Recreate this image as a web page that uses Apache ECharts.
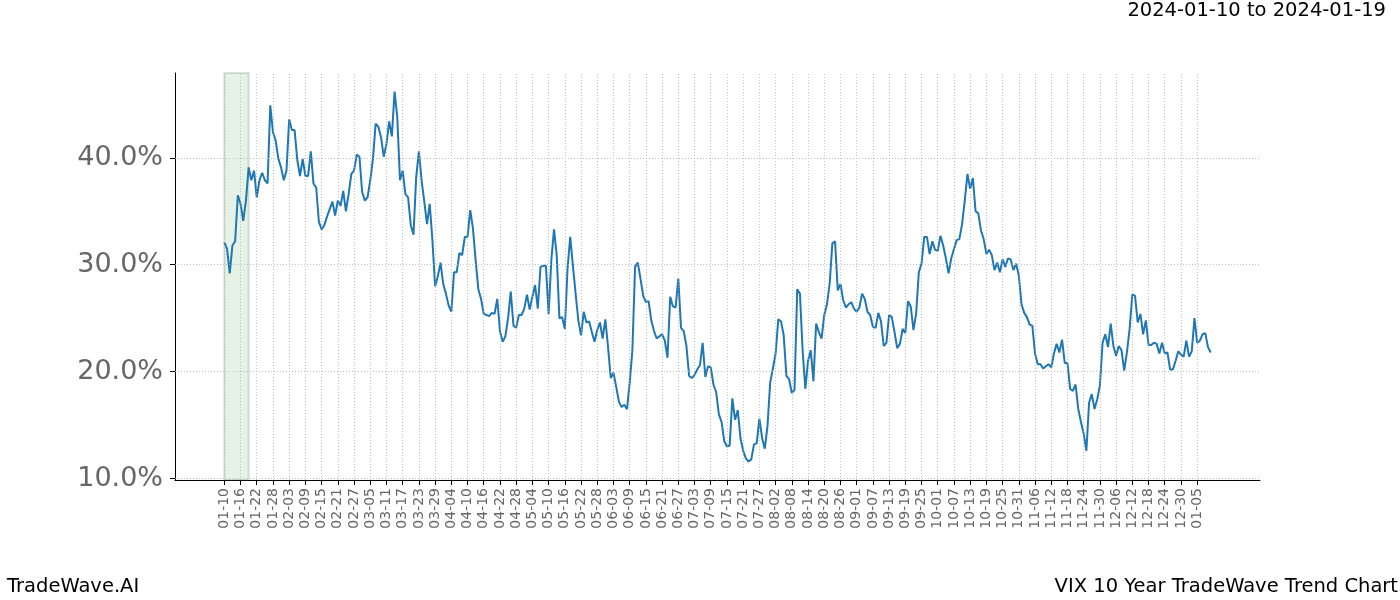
<!DOCTYPE html>
<html><head><meta charset="utf-8">
<script src="https://cdn.jsdelivr.net/npm/echarts@6/dist/echarts.min.js"></script>
<style>html,body{margin:0;padding:0;background:#fff}#c{width:1400px;height:600px}</style>
</head><body><div id="c"></div>
<script>
// Day index 0 = 2024-01-10 (one value per calendar day)
const startDate = '2024-01-10';
const highlightStartDay = 0;   // 2024-01-10
const highlightEndDay = 9;     // 2024-01-19
const titleText = '2024-01-10 to 2024-01-19';
const footerLeft = 'TradeWave.AI';
const footerRight = 'VIX 10 Year TradeWave Trend Chart';

const tickLabels = ['01-10','01-16','01-22','01-28','02-03','02-09','02-15','02-21','02-27','03-05',
  '03-11','03-17','03-23','03-29','04-04','04-10','04-16','04-22','04-28','05-04','05-10','05-16',
  '05-22','05-28','06-03','06-09','06-15','06-21','06-27','07-03','07-09','07-15','07-21','07-27',
  '08-02','08-08','08-14','08-20','08-26','09-01','09-07','09-13','09-19','09-25','10-01','10-07',
  '10-13','10-19','10-25','10-31','11-06','11-12','11-18','11-24','11-30','12-06','12-12','12-18',
  '12-24','12-30','01-05'];
const tickDays = [0,6,12,18,24,30,36,42,48,54,60,66,72,78,84,90,96,102,108,114,120,126,132,138,144,
  150,156,162,168,174,180,186,192,198,204,210,216,222,228,234,240,246,252,258,264,270,276,282,288,
  294,300,306,312,318,324,330,336,342,348,354,360];
const yTicks = [10, 20, 30, 40];

const vixValues = [
  32.1,31.5,29.2,31.8,32.2,36.5,35.7,34.1,36.0,39.1,
  37.9,38.8,36.3,37.9,38.6,37.9,37.6,44.9,42.4,41.6,
  39.9,39.1,37.9,38.8,43.6,42.6,42.6,39.8,38.3,39.9,
  38.3,38.3,40.6,37.6,37.2,34.0,33.3,33.7,34.5,35.2,
  35.9,34.6,36.0,35.5,36.9,35.0,36.6,38.5,38.8,40.3,
  40.1,36.8,36.0,36.3,37.9,39.9,43.2,42.9,41.9,40.1,
  41.3,43.4,42.0,46.2,43.8,37.9,38.8,36.6,36.3,33.7,
  32.8,38.2,40.6,37.9,35.9,33.8,35.7,32.3,28.0,28.9,
  30.2,28.2,27.3,26.2,25.6,29.3,29.3,31.1,30.9,32.6,
  32.6,35.1,33.4,30.4,27.7,26.8,25.4,25.3,25.2,25.5,
  25.4,26.8,23.8,22.8,23.3,25.0,27.5,24.3,24.1,25.3,
  25.3,25.9,27.2,25.8,27.0,28.1,25.9,29.8,29.9,29.9,
  25.4,30.4,33.3,30.9,25.0,25.1,24.0,29.6,32.6,29.9,
  27.3,24.8,23.4,25.6,24.6,24.7,23.7,22.8,23.9,24.6,
  23.1,24.9,22.3,19.4,19.9,18.6,17.2,16.7,16.9,16.5,
  18.9,22.0,29.8,30.2,28.7,27.1,26.5,26.6,24.8,23.8,
  23.1,23.3,23.5,22.9,21.3,27.0,26.1,26.0,28.7,24.1,
  23.8,22.4,19.6,19.4,19.7,20.2,20.6,22.7,19.5,20.5,
  20.4,18.8,18.1,16.0,15.3,13.5,13.0,13.1,17.5,15.5,
  16.4,13.8,12.6,11.9,11.6,11.8,13.2,13.3,15.6,13.8,
  12.8,14.9,19.0,20.3,21.7,24.9,24.7,23.4,19.6,19.3,
  18.0,18.3,27.7,27.3,22.0,18.4,21.0,22.0,19.1,24.5,
  23.7,23.1,25.3,26.3,28.2,32.0,32.2,27.6,28.2,26.7,
  26.0,26.3,26.5,25.9,25.6,26.0,27.3,26.8,25.6,25.3,
  24.2,24.1,25.5,24.7,22.4,22.7,25.3,25.1,23.7,22.2,
  22.6,24.0,23.6,26.6,26.1,23.9,25.4,29.3,30.1,32.6,
  32.6,31.0,32.2,31.4,31.3,32.7,31.8,30.6,29.2,30.6,
  null,32.3,32.4,33.8,36.0,38.5,37.1,38.1,35.0,34.8,
  33.2,32.4,31.0,31.4,30.9,29.5,30.2,29.3,30.5,29.8,
  30.6,30.5,29.5,30.1,29.0,26.3,25.5,25.1,24.4,24.3,
  21.7,20.7,20.7,20.3,20.5,20.7,20.4,21.7,22.6,21.8,
  23.0,20.8,20.8,18.4,18.2,18.8,16.5,15.3,14.2,12.6,
  17.1,17.9,16.5,17.4,18.7,22.7,23.5,22.3,24.5,22.4,
  21.5,22.4,22.0,20.1,21.8,24.0,27.2,27.1,24.6,25.4,
  23.5,24.8,22.5,22.5,22.7,22.6,21.7,22.7,21.7,21.8,
  20.2,20.2,21.0,21.9,21.6,21.4,22.9,21.4,21.9,25.0,
  22.7,22.9,23.5,23.6,22.3,21.8
];

const seriesData = vixValues.map((v, i) => [i, v]);
const valid = vixValues.filter(v => v != null);
const lastDay = vixValues.length - 1;
const xPad = lastDay * 0.05;
const yMin = Math.min(...valid), yMax = Math.max(...valid);
const yPad = (yMax - yMin) * 0.05;

const FONT = 'DejaVu Sans';
const gridStyle = { color: '#b0b0b0', width: 0.8, type: [1, 2] };
const gridLines = tickDays.map(d => ({ xAxis: d })).concat(yTicks.map(v => ({ yAxis: v })));

const chart = echarts.init(document.getElementById('c'), null, { renderer: 'canvas' });
chart.setOption({
  animation: false,
  backgroundColor: '#fff',
  grid: { left: 175, right: 140, top: 73, bottom: 120, containLabel: false },
  xAxis: {
    type: 'value', min: -xPad, max: lastDay + xPad,
    axisLine: { show: true, onZero: false, lineStyle: { color: '#000', width: 1 } },
    axisTick: { show: true, length: 5, lineStyle: { color: '#000' }, customValues: tickDays },
    axisLabel: {
      customValues: tickDays, rotate: 90, margin: 8,
      fontFamily: FONT, fontSize: 14, color: '#666',
      formatter: v => { const k = tickDays.indexOf(Math.round(v)); return k >= 0 ? tickLabels[k] : ''; }
    },
    splitLine: { show: false }
  },
  yAxis: {
    type: 'value', min: yMin - yPad, max: yMax + yPad,
    axisLine: { show: true, onZero: false, lineStyle: { color: '#000', width: 1 } },
    axisTick: { show: true, length: 5, lineStyle: { color: '#000' }, customValues: yTicks },
    axisLabel: {
      customValues: yTicks, margin: 12, fontFamily: FONT, fontSize: 27, color: '#666',
      formatter: v => v.toFixed(1) + '%'
    },
    splitLine: { show: false }
  },
  series: [{
    type: 'line', data: [], z: 1, silent: true,
    markLine: { silent: true, symbol: 'none', label: { show: false }, lineStyle: gridStyle,
      emphasis: { disabled: true }, data: gridLines },
    markArea: {
      silent: true,
      itemStyle: { color: 'rgba(0,128,0,0.1)', borderColor: 'rgba(60,90,60,0.18)', borderWidth: 2 },
      data: [[{ xAxis: highlightStartDay }, { xAxis: highlightEndDay }]]
    }
  }, {
    type: 'line', data: seriesData, showSymbol: false, connectNulls: true,
    lineStyle: { color: '#1f77b4', width: 2 }, itemStyle: { color: '#1f77b4' },
    z: 3
  }],
  graphic: [
    { type: 'text', right: 14, top: 1, style: { text: titleText, font: '19.5px "DejaVu Sans"', fill: '#000' } },
    { type: 'text', left: 7, top: 577, style: { text: footerLeft, font: '19.5px "DejaVu Sans"', fill: '#000' } },
    { type: 'text', right: 2, top: 577, style: { text: footerRight, font: '19.5px "DejaVu Sans"', fill: '#000' } }
  ]
});
</script></body></html>
